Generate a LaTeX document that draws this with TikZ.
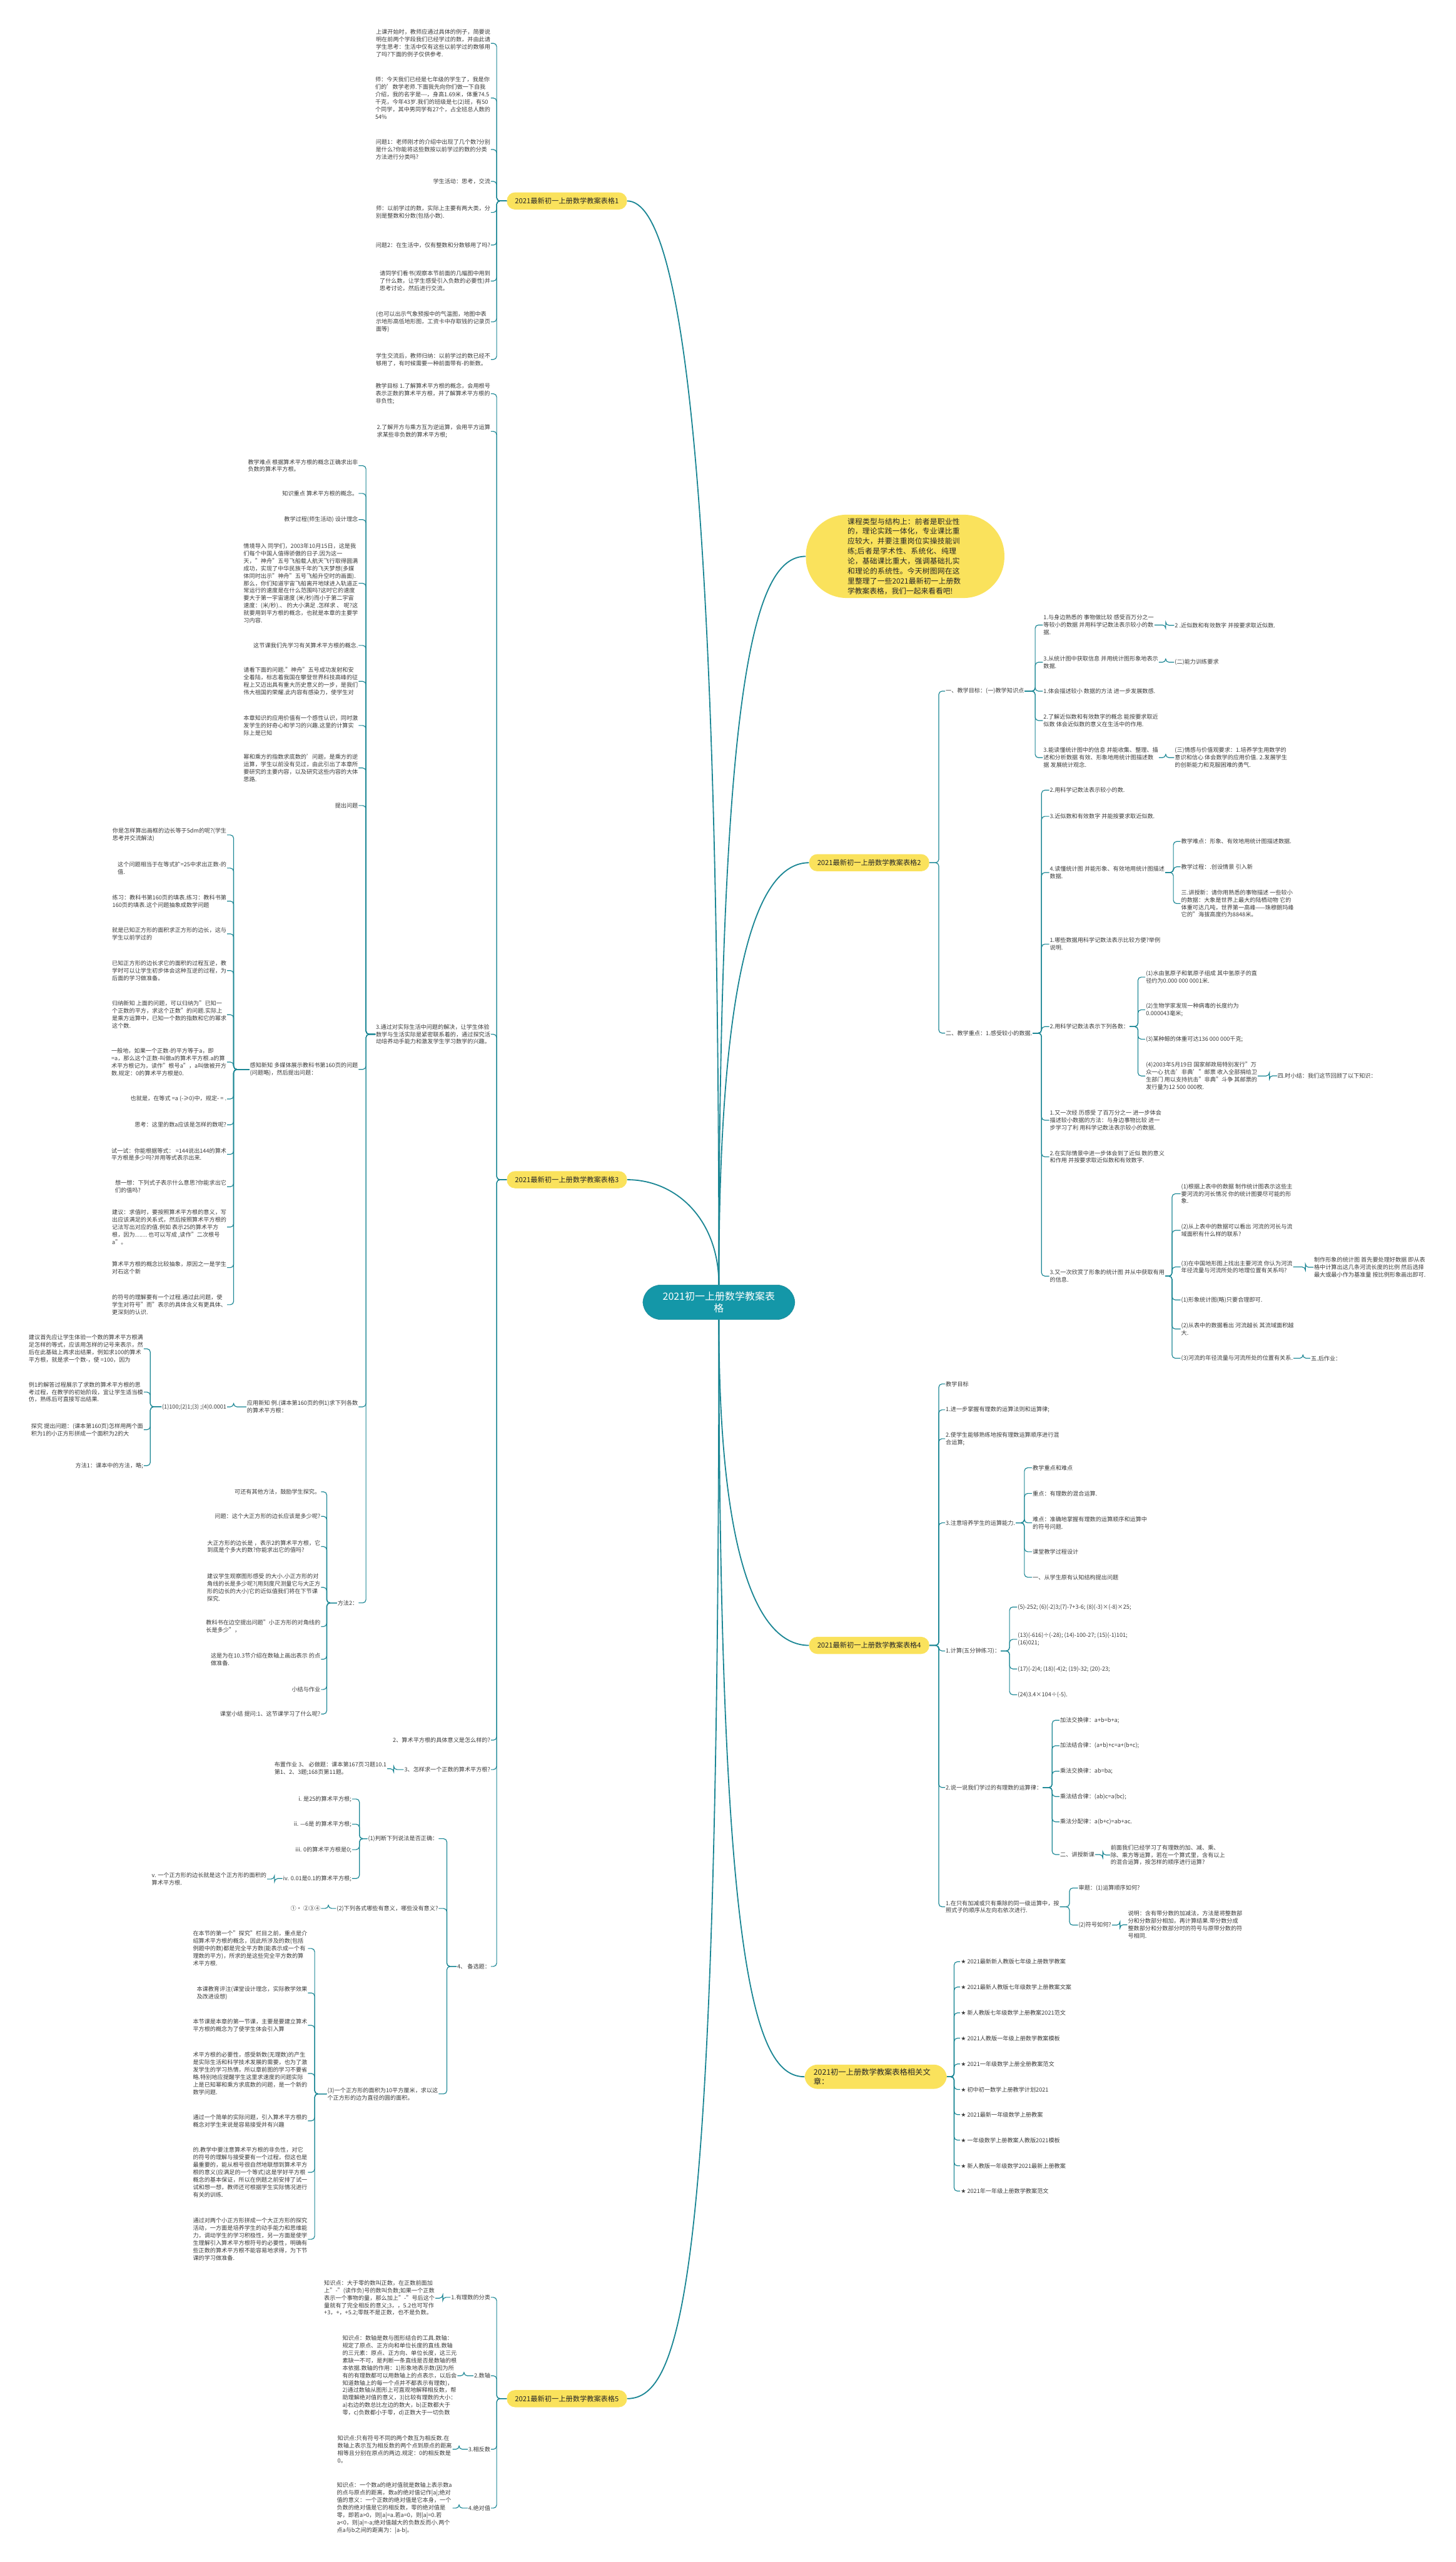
\documentclass[tikz,border=0pt]{standalone}
\usepackage{fontspec}
\setmainfont{Noto Sans CJK SC}
\newfontfamily\symfont{DejaVu Sans}
\usepackage{varwidth}
\XeTeXlinebreaklocale "zh"
\XeTeXlinebreakskip = 0pt plus 1pt
\definecolor{mapTeal}{HTML}{1497A8}
\definecolor{lineTeal}{HTML}{1A8694}
\definecolor{mapYellow}{HTML}{FAE25C}
\definecolor{leafGray}{HTML}{3A3A3A}
\newcommand\leaffont{\fontsize{7}{9.1}\selectfont}
% bracket connectors: parent, child, x of the vertical trunk
\newcommand\legL[3]{\draw[link] (#1.west) -- (#3,0 |- #1.west) |- (#2.east);}
\newcommand\legR[3]{\draw[link] (#1.east) -- (#3,0 |- #1.east) |- (#2.west);}
\tikzset{
  leaf/.style={inner sep=0.6pt, text=leafGray, font=\leaffont,
    execute at begin node={\begin{varwidth}{141pt}\raggedright},
    execute at end node={\end{varwidth}}},
  leafL/.style={leaf, anchor=east},
  leafR/.style={leaf, anchor=west},
  branch/.style={fill=mapYellow, rounded corners=10pt, inner xsep=10pt, inner ysep=0pt,
    minimum height=21pt, font=\fontsize{8.6}{10}\selectfont, text=black!85},
  hub/.style={fill=mapTeal, draw=lineTeal, rounded corners=22pt, text=white, align=center,
    text width=140pt, inner xsep=23pt, inner ysep=8pt, font=\fontsize{12.2}{15}\selectfont},
  introbox/.style={fill=mapYellow, rounded corners=50pt, text width=141pt, align=left,
    inner xsep=51pt, inner ysep=4pt, font=\fontsize{9}{12.2}\selectfont, text=black!85},
  relbox/.style={fill=mapYellow, rounded corners=16pt, text width=152pt, align=left,
    inner xsep=11pt, inner ysep=4.5pt, font=\fontsize{9.4}{12}\selectfont, text=black!85},
  link/.style={draw=lineTeal, line width=0.9pt, rounded corners=4pt},
  trunkline/.style={draw=lineTeal, line width=1.4pt},
}
\begin{document}
\begin{tikzpicture}[x=2pt,y=-2pt]
\useasboundingbox (0,0) rectangle (891,1568);

% centre and main branches
\node[hub] (hub) at (440,797) {2021初一上册数学教案表\\格};
\node[branch] (t1) at (347,123) {2021最新初一上册数学教案表格1};
\node[branch] (t3) at (347,722) {2021最新初一上册数学教案表格3};
\node[branch] (t5) at (347,1468) {2021最新初一上册数学教案表格5};
\node[introbox] (intro) at (554,340.5) {课程类型与结构上：前者是职业性的，理论实践一体化，专业课比重应较大，并要注重岗位实操技能训练;后者是学术性、系统化、纯理论，基础课比重大，强调基础扎实和理论的系统性。今天树图网在这里整理了一些2021最新初一上册数学教案表格，我们一起来看看吧!};
\node[branch] (t2) at (532,528) {2021最新初一上册数学教案表格2};
\node[branch] (t4) at (532,1007) {2021最新初一上册数学教案表格4};
\node[relbox] (rel) at (536,1271) {2021初一上册数学教案表格相关文\\章：};

\draw[trunkline] (hub.north) .. controls +(0,-480) and +(35,0) .. (t1.east);
\draw[trunkline] (hub.north) .. controls +(0,-40) and +(30,0) .. (t3.east);
\draw[trunkline] (hub.south) .. controls +(0,580) and +(35,0) .. (t5.east);
\draw[trunkline] (hub.north) .. controls +(0,-380) and +(-30,0) .. (intro.west);
\draw[trunkline] (hub.north) .. controls +(0,-200) and +(-30,0) .. (t2.west);
\draw[trunkline] (hub.south) .. controls +(0,150) and +(-30,0) .. (t4.west);
\draw[trunkline] (hub.south) .. controls +(0,400) and +(-30,0) .. (rel.west);

% table 1
\node[leafL] (t1a) at (300.5,26.5) {上课开始时，教师应通过具体的例子，简要说明在前两个学段我们已经学过的数，并由此请学生思考：生活中仅有这些以前学过的数够用了吗?下面的例子仅供参考.};
\node[leafL] (t1b) at (300.5,60) {师：今天我们已经是七年级的学生了，我是你们的'数学老师.下面我先向你们做一下自我介绍，我的名字是-{}-{}-，身高1.69米，体重74.5千克，今年43岁.我们的班级是七(2)班，有50个同学，其中男同学有27个，占全班总人数的54\%};
\node[leafL] (t1c) at (300.5,91.5) {问题1：老师刚才的介绍中出现了几个数?分别是什么?你能将这些数按以前学过的数的分类方法进行分类吗?};
\node[leafL] (t1d) at (300.5,111) {学生活动：思考，交流};
\node[leafL] (t1e) at (300.5,130) {师：以前学过的数，实际上主要有两大类，分别是整数和分数(包括小数).};
\node[leafL] (t1f) at (300.5,150) {问题2：在生活中，仅有整数和分数够用了吗?};
\node[leafL] (t1g) at (300.5,172) {请同学们看书(观察本节前面的几幅图中用到了什么数，让学生感受引入负数的必要性)并思考讨论，然后进行交流。};
\node[leafL] (t1h) at (300.5,197) {(也可以出示气象预报中的气温图，地图中表示地形高低地形图，工资卡中存取钱的记录页面等)};
\node[leafL] (t1i) at (300.5,220) {学生交流后，教师归纳：以前学过的数已经不够用了，有时候需要一种前面带有-的新数。};
\legL{t1}{t1a}{304} \legL{t1}{t1b}{304} \legL{t1}{t1c}{304}
\legL{t1}{t1d}{304} \legL{t1}{t1e}{304} \legL{t1}{t1f}{304}
\legL{t1}{t1g}{304} \legL{t1}{t1h}{304} \legL{t1}{t1i}{304}

% table 3
\node[leafL] (t3a) at (300.5,241) {教学目标 1.了解算术平方根的概念，会用根号表示正数的算术平方根，并了解算术平方根的非负性;};
\node[leafL] (t3b) at (300.5,264) {2.了解开方与乘方互为逆运算，会用平方运算求某些非负数的算术平方根;};
\node[leafL] (t3c) at (300.5,633) {3.通过对实际生活中问题的解决，让学生体验数学与生活实际是紧密联系着的，通过探究活动培养动手能力和激发学生学习数学的兴趣。};
\node[leafL] (t3d) at (300.5,1065) {2、算术平方根的具体意义是怎么样的?};
\node[leafL] (t3e) at (300.5,1083) {3、怎样求一个正数的算术平方根?};
\node[leafL] (t3f) at (300.5,1203.5) {4、 备选题：};
\legL{t3}{t3a}{304} \legL{t3}{t3b}{304} \legL{t3}{t3c}{304}
\legL{t3}{t3d}{304} \legL{t3}{t3e}{304} \legL{t3}{t3f}{304}

\node[leafL] (c1) at (219.5,285) {教学难点 根据算术平方根的概念正确求出非负数的算术平方根。};
\node[leafL] (c2) at (219.5,302) {知识重点 算术平方根的概念。};
\node[leafL] (c3) at (219.5,318) {教学过程(师生活动) 设计理念};
\node[leafL] (c4) at (219.5,357) {情境导入 同学们，2003年10月15日，这是我们每个中国人值得骄傲的日子.因为这一天，"神舟"五号飞船载人航天飞行取得圆满成功，实现了中华民族千年的飞天梦想(多媒体同时出示"神舟"五号飞船升空时的画面).那么，你们知道宇宙飞船离开地球进入轨道正常运行的速度是在什么范围吗?这时它的速度要大于第一宇宙速度 (米/秒)而小于第二宇宙速度：(米/秒).、 的大小满足 .怎样求 、 呢?这就要用到平方根的概念，也就是本章的主要学习内容.};
\node[leafL] (c5) at (219.5,395) {这节课我们先学习有关算术平方根的概念.};
\node[leafL] (c6) at (219.5,417) {请看下面的问题."神舟"五号成功发射和安全着陆，标志着我国在攀登世界科技高峰的征程上又迈出具有重大历史意义的一步，是我们伟大祖国的荣耀.此内容有感染力，使学生对};
\node[leafL] (c7) at (219.5,444) {本章知识的应用价值有一个感性认识，同时激发学生的好奇心和学习的兴趣.这里的计算实际上是已知};
\node[leafL] (c8) at (219.5,470) {幂和乘方的指数求底数的'问题，是乘方的逆运算，学生以前没有见过，由此引出了本章所要研究的主要内容，以及研究这些内容的大体思路.};
\node[leafL] (c9) at (219.5,493) {提出问题};
\node[leafL] (c10) at (219.5,654.5) {感知新知 多媒体展示教科书第160页的问题(问题略)，然后提出问题：};
\node[leafL] (c11) at (219.5,861) {应用新知 例.(课本第160页的例1)求下列各数的算术平方根：};
\node[leafL] (c12) at (219.5,981) {方法2：};
\legL{t3c}{c1}{224} \legL{t3c}{c2}{224} \legL{t3c}{c3}{224} \legL{t3c}{c4}{224}
\legL{t3c}{c5}{224} \legL{t3c}{c6}{224} \legL{t3c}{c7}{224} \legL{t3c}{c8}{224}
\legL{t3c}{c9}{224} \legL{t3c}{c10}{224} \legL{t3c}{c11}{224} \legL{t3c}{c12}{224}

\node[leafL] (k1) at (139,511) {你是怎样算出画框的边长等于5dm的呢?(学生思考并交流解法)};
\node[leafL] (k2) at (139,531.3) {这个问题相当于在等式扩=25中求出正数-的值.};
\node[leafL] (k3) at (139,551.5) {练习：教科书第160页的填表.练习：教科书第160页的填表.这个问题抽象成数学问题};
\node[leafL] (k4) at (139,571.5) {就是已知正方形的面积求正方形的边长，这与学生以前学过的};
\node[leafL] (k5) at (139,594) {已知正方形的边长求它的面积的过程互逆，教学时可以让学生初步体会这种互逆的过程，为后面的学习做准备。};
\node[leafL] (k6) at (139,621) {归纳新知 上面的问题，可以归纳为"已知一个正数的平方，求这个正数"的问题.实际上是乘方运算中，已知一个数的指数和它的幂求这个数.};
\node[leafL] (k7) at (139,650) {一般地，如果一个正数-的平方等于a，即 =a，那么这个正数-叫做a的算术平方根.a的算术平方根记为，读作"根号a"，a叫做被开方数.规定：0的算术平方根是0.};
\node[leafL] (k8) at (139,672.6) {也就是，在等式 =a (-≥0)中，规定- = .};
\node[leafL] (k9) at (139,688.4) {思考：这里的数a应该是怎样的数呢?};
\node[leafL] (k10) at (139,706.5) {试一试：你能根据等式： =144说出144的算术平方根是多少吗?并用等式表示出来.};
\node[leafL] (k11) at (139,726.3) {想一想：下列式子表示什么意思?你能求出它们的值吗?};
\node[leafL] (k12) at (139,751) {建议：求值时，要按照算术平方根的意义，写出应该满足的关系式，然后按照算术平方根的记法写出对应的值.例如 表示25的算术平方根，因为…… 也可以写成 ,读作"二次根号a"。};
\node[leafL] (k13) at (139,775.8) {算术平方根的概念比较抽象，原因之一是学生对石这个新};
\node[leafL] (k14) at (139,798.5) {的符号的理解要有一个过程.通过此问题，使学生对符号"而"表示的具体含义有更具体、更深刻的认识.};
\legL{c10}{k1}{143} \legL{c10}{k2}{143} \legL{c10}{k3}{143} \legL{c10}{k4}{143}
\legL{c10}{k5}{143} \legL{c10}{k6}{143} \legL{c10}{k7}{143} \legL{c10}{k8}{143}
\legL{c10}{k9}{143} \legL{c10}{k10}{143} \legL{c10}{k11}{143} \legL{c10}{k12}{143}
\legL{c10}{k13}{143} \legL{c10}{k14}{143}

\node[leafL] (ex) at (139,861) {(1)100;(2)1;(3) ;(4)0.0001};
\legL{c11}{ex}{143}
\node[leafL] (m1) at (88,825.5) {建议首先应让学生体验一个数的算术平方根满足怎样的等式，应该用怎样的记号来表示，然后在此基础上再求出结果，例如求100的算术平方根，就是求一个数-，使 =100，因为};
\node[leafL] (m2) at (88,852) {例1的解答过程展示了求数的算术平方根的思考过程，在教学的初始阶段，宜让学生适当模仿，熟练后可直接写出结果.};
\node[leafL] (m3) at (88,875) {探究 提出问题：(课本第160页)怎样用两个面积为1的小正方形拼成一个面积为2的大};
\node[leafL] (m4) at (88,897) {方法1：课本中的方法，略;};
\legL{ex}{m1}{92} \legL{ex}{m2}{92} \legL{ex}{m3}{92} \legL{ex}{m4}{92}

\node[leafL] (n1) at (196.5,913) {可还有其他方法，鼓励学生探究。};
\node[leafL] (n2) at (196.5,928) {问题：这个大正方形的边长应该是多少呢?};
\node[leafL] (n3) at (196.5,946.5) {大正方形的边长是 ，表示2的算术平方根，它到底是个多大的数?你能求出它的值吗?};
\node[leafL] (n4) at (196.5,971.5) {建议学生观察图形感受 的大小.小正方形的对角线的长是多少呢?(用刻度尺测量它与大正方形的边长的大小)它的近似值我们将在下节课探究.};
\node[leafL] (n5) at (196.5,995.5) {教科书在边空提出问题"小正方形的对角线的长是多少"，};
\node[leafL] (n6) at (196.5,1015.5) {这是为在10.3节介绍在数轴上画出表示 的点做准备.};
\node[leafL] (n7) at (196.5,1034) {小结与作业};
\node[leafL] (n8) at (196.5,1049) {课堂小结 提问:1、这节课学习了什么呢?};
\legL{c12}{n1}{200} \legL{c12}{n2}{200} \legL{c12}{n3}{200} \legL{c12}{n4}{200}
\legL{c12}{n5}{200} \legL{c12}{n6}{200} \legL{c12}{n7}{200} \legL{c12}{n8}{200}

\node[leafL] (hw) at (237,1082.5) {布置作业 3、 必做题：课本第167页习题10.1第1、2、3题;168页第11题。};
\legL{t3e}{hw}{241}

\node[leafL] (p1) at (268.5,1125.3) {(1)判断下列说法是否正确：};
\node[leafL] (p2) at (268.5,1168) {(2)下列各式哪些有意义，哪些没有意义?};
\node[leafL] (p3) at (268.5,1281.5) {(3)一个正方形的面积为10平方厘米，求以这个正方形的边为直径的圆的面积。};
\legL{t3f}{p1}{273.5} \legL{t3f}{p2}{273.5} \legL{t3f}{p3}{273.5}
\node[leafL] (q1) at (215.5,1101) {i. 是25的算术平方根;};
\node[leafL] (q2) at (215.5,1116.4) {ii. —6是 的算术平方根;};
\node[leafL] (q3) at (215.5,1132) {iii. 0的算术平方根是0;};
\node[leafL] (q4) at (215.5,1149.7) {iv. 0.01是0.1的算术平方根;};
\legL{p1}{q1}{220} \legL{p1}{q2}{220} \legL{p1}{q3}{220} \legL{p1}{q4}{220}
\node[leafL] (q5) at (163.5,1150) {v. 一个正方形的边长就是这个正方形的面积的算术平方根.};
\legL{q4}{q5}{168}
\node[leafL] (p2a) at (196.5,1168) {①· ②③④};
\legL{p2}{p2a}{201}
\node[leafL] (r1) at (188.5,1192.5) {在本节的第一个"探究"栏目之前，重点是介绍算术平方根的概念，因此所涉及的数(包括例题中的数)都是完全平方数(能表示成一个有理数的平方)，所求的是这些完全平方数的算术平方根.};
\node[leafL] (r2) at (188.5,1219.7) {本课教育评注(课堂设计理念，实际教学效果及改进设想)};
\node[leafL] (r3) at (188.5,1239.5) {本节课是本章的第一节课，主要是要建立算术平方根的概念为了使学生体会引入算};
\node[leafL] (r4) at (188.5,1269) {术平方根的必要性，感受新数(无理数)的产生是实际生活和科学技术发展的需要，也为了激发学生的学习热情，所以章前图的学习不要省略.特别地应提醒学生这里求速度的问题实际上是已知幂和乘方求底数的问题，是一个新的数学问题.};
\node[leafL] (r5) at (188.5,1298) {通过一个简单的实际问题，引入算术平方根的概念对学生来说是容易接受并有兴趣};
\node[leafL] (r6) at (188.5,1329.5) {的.教学中要注意算术平方根的非负性，对它的符号的理解与接受要有一个过程，但这也是最重要的，能从根号很自然地联想到算术平方根的意义(应满足的一个等式)这是学好平方根概念的基本保证，所以在例题之前安排了试一试和想一想，教师还可根据学生实际情况进行有关的训练.};
\node[leafL] (r7) at (188.5,1370.5) {通过对两个小正方形拼成一个大正方形的探究活动，一方面是培养学生的动手能力和思维能力，调动学生的学习积极性，另一方面是使学生理解引入算术平方根符号的必要性，明确有些正数的算术平方根不能容易地求得，为下节课的学习做准备.};
\legL{p3}{r1}{192.6} \legL{p3}{r2}{192.6} \legL{p3}{r3}{192.6} \legL{p3}{r4}{192.6}
\legL{p3}{r5}{192.6} \legL{p3}{r6}{192.6} \legL{p3}{r7}{192.6}

% table 5
\node[leafL] (s1) at (300.5,1406) {1.有理数的分类};
\node[leafL] (s2) at (300.5,1454) {2.数轴};
\node[leafL] (s3) at (300.5,1499) {3.相反数};
\node[leafL] (s4) at (300.5,1535) {4.绝对值};
\legL{t5}{s1}{304} \legL{t5}{s2}{304} \legL{t5}{s3}{304} \legL{t5}{s4}{304}
\node[leafL] (s1a) at (266.5,1406.5) {知识点：大于零的数叫正数，在正数前面加上"-"(读作负)号的数叫负数;如果一个正数表示一个事物的量，那么加上"-"号后这个量就有了完全相反的意义;3，，5.2也可写作+3，+，+5.2;零既不是正数，也不是负数。};
\node[leafL] (s2a) at (280,1454) {知识点：数轴是数与图形结合的工具.数轴：规定了原点、正方向和单位长度的直线.数轴的三元素：原点、正方向、单位长度，这三元素缺一不可，是判断一条直线是否是数轴的根本依据.数轴的作用：1)形象地表示数(因为所有的有理数都可以用数轴上的点表示，以后会知道数轴上的每一个点并不都表示有理数)，2)通过数轴从图形上可直观地解释相反数，帮助理解绝对值的意义，3)比较有理数的大小：a)右边的数总比左边的数大，b)正数都大于零，c)负数都小于零，d)正数大于一切负数};
\node[leafL] (s3a) at (277,1499) {知识点:只有符号不同的两个数互为相反数.在数轴上表示互为相反数的两个点到原点的距离相等且分别在原点的两边.规定：0的相反数是0。};
\node[leafL] (s4a) at (277,1535) {知识点：一个数a的绝对值就是数轴上表示数a的点与原点的距离，数a的绝对值记作|a|;绝对值的意义：一个正数的绝对值是它本身，一个负数的绝对值是它的相反数，零的绝对值是零，即若a>0，则|a|=a.若a=0，则|a|=0.若a<0，则|a|=-a;绝对值越大的负数反而小.两个点a与b之间的距离为：|a-b|。};
\legL{s1}{s1a}{271} \legL{s2}{s2a}{284} \legL{s3}{s3a}{281} \legL{s4}{s4a}{281}

% table 2
\node[leafR] (u1) at (578.5,423) {一、教学目标：(一)教学知识点};
\node[leafR] (u2) at (578.5,632.3) {二、教学重点：1.感受较小的数据.};
\legR{t2}{u1}{574.6} \legR{t2}{u2}{574.6}
\node[leafR] (v1) at (638.3,382.5) {1.与身边熟悉的 事物做比较 感受百万分之一等较小的数据 并用科学记数法表示较小的数据.};
\node[leafR] (v2) at (638.3,405.3) {3.从统计图中获取信息 并用统计图形象地表示数据.};
\node[leafR] (v3) at (638.3,423) {1.体会描述较小 数据的方法 进一步发展数感.};
\node[leafR] (v4) at (638.3,441) {2.了解近似数和有效数字的概念 能按要求取近似数 体会近似数的意义在生活中的作用.};
\node[leafR] (v5) at (638.3,463.7) {3.能读懂统计图中的信息 并能收集、整理、描述和分析数据 有效、形象地用统计图描述数据 发展统计观念.};
\legR{u1}{v1}{633.6} \legR{u1}{v2}{633.6} \legR{u1}{v3}{633.6} \legR{u1}{v4}{633.6} \legR{u1}{v5}{633.6}
\node[leafR] (v1a) at (718.7,382.7) {2 .近似数和有效数字 并按要求取近似数.};
\node[leafR] (v2a) at (718.7,405.3) {(二)能力训练要求};
\node[leafR] (v5a) at (718.7,463.7) {(三)情感与价值观要求：1.培养学生用数学的意识和信心 体会数学的应用价值. 2.发展学生的创新能力和克服困难的勇气.};
\legR{v1}{v1a}{713.5} \legR{v2}{v2a}{713.5} \legR{v5}{v5a}{713.5}

\node[leafR] (w1) at (642.2,483.6) {2.用科学记数法表示较小的数.};
\node[leafR] (w2) at (642.2,499.6) {3.近似数和有效数字 并能按要求取近似数.};
\node[leafR] (w3) at (642.2,534) {4.读懂统计图 并能形象、有效地用统计图描述数据.};
\node[leafR] (w4) at (642.2,577.8) {1.哪些数据用科学记数法表示比较方便?举例说明.};
\node[leafR] (w5) at (642.2,628.3) {2.用科学记数法表示下列各数：};
\node[leafR] (w6) at (642.2,685.6) {1.又一次经 历感受 了百万分之一 进一步体会描述较小数据的方法：与身边事物比较 进一步学习了利 用科学记数法表示较小的数据.};
\node[leafR] (w7) at (642.2,708) {2.在实际情景中进一步体会到了近似 数的意义和作用 并按要求取近似数和有效数字.};
\node[leafR] (w8) at (642.2,781) {3.又一次欣赏了形象的统计图 并从中获取有用的信息.};
\legR{u2}{w1}{637.5} \legR{u2}{w2}{637.5} \legR{u2}{w3}{637.5} \legR{u2}{w4}{637.5}
\legR{u2}{w5}{637.5} \legR{u2}{w6}{637.5} \legR{u2}{w7}{637.5} \legR{u2}{w8}{637.5}
\node[leafR] (x1) at (722.6,515) {教学难点：形象、有效地用统计图描述数据.};
\node[leafR] (x2) at (722.6,530.5) {教学过程：.创设情景 引入新};
\node[leafR] (x3) at (722.6,553) {三.讲授新：请你用熟悉的事物描述 一些较小的数据：大象是世界上最大的陆栖动物 它的体重可达几吨，世界第一高峰——珠穆朗玛峰 它的"海拔高度约为8848米。};
\legR{w3}{x1}{718.2} \legR{w3}{x2}{718.2} \legR{w3}{x3}{718.2}
\node[leafR] (y1) at (701,598) {(1)水由氢原子和氧原子组成 其中氢原子的直径约为0.000 000 0001米.};
\node[leafR] (y2) at (701,618) {(2)生物学家发现一种病毒的长度约为0.000043毫米;};
\node[leafR] (y3) at (701,636) {(3)某种鲸的体重可达136 000 000千克;};
\node[leafR] (y4) at (701,658.5) {(4)2003年5月19日 国家邮政局特别发行"万众一心 抗击'非典'"邮票 收入全部捐给卫生部门 用以支持抗击"非典"斗争 其邮票的发行量为12 500 000枚.};
\legR{w5}{y1}{696.5} \legR{w5}{y2}{696.5} \legR{w5}{y3}{696.5} \legR{w5}{y4}{696.5}
\node[leafR] (y4a) at (781.6,658.4) {四.时小结：我们这节回顾了以下知识：};
\legR{y4}{y4a}{777}
\node[leafR] (z1) at (722.6,730.6) {(1)根据上表中的数据 制作统计图表示这些主要河流的河长情况 你的统计图要尽可能的形象.};
\node[leafR] (z2) at (722.6,753) {(2)从上表中的数据可以看出 河流的河长与流域面积有什么样的联系?};
\node[leafR] (z3) at (722.6,775.4) {(3)在中国地形图上找出主要河流 你认为河流年径流量与河流所处的地理位置有关系吗?};
\node[leafR] (z4) at (722.6,795.6) {(1)形象统计图(略)只要合理即可.};
\node[leafR] (z5) at (722.6,813.4) {(2)从表中的数据看出 河流越长 其流域面积越大.};
\node[leafR] (z6) at (722.6,831.3) {(3)河流的年径流量与河流所处的位置有关系.};
\legR{w8}{z1}{717.4} \legR{w8}{z2}{717.4} \legR{w8}{z3}{717.4}
\legR{w8}{z4}{717.4} \legR{w8}{z5}{717.4} \legR{w8}{z6}{717.4}
\node[leafR] (z3a) at (803.9,775.6) {制作形象的统计图 首先要处理好数据 即从表格中计算出这几条河流长度的比例 然后选择最大或最小作为基准量 按比例形象画出即可.};
\node[leafR] (z6a) at (802,831.3) {五.后作业：};
\legR{z3}{z3a}{799} \legR{z6}{z6a}{797.5}

% table 4
\node[leafR] (a1) at (578.5,847) {教学目标};
\node[leafR] (a2) at (578.5,862.8) {1.进一步掌握有理数的运算法则和运算律;};
\node[leafR] (a3) at (578.5,880.5) {2.使学生能够熟练地按有理数运算顺序进行混合运算;};
\node[leafR] (a4) at (578.5,932) {3.注意培养学生的运算能力.};
\node[leafR] (a5) at (578.5,1010.4) {1.计算(五分钟练习)：};
\node[leafR] (a6) at (578.5,1094) {2.说一说我们学过的有理数的运算律：};
\node[leafR] (a7) at (578.5,1167) {1.在只有加减或只有乘除的同一级运算中，按照式子的顺序从左向右依次进行.};
\legR{t4}{a1}{574.6} \legR{t4}{a2}{574.6} \legR{t4}{a3}{574.6} \legR{t4}{a4}{574.6}
\legR{t4}{a5}{574.6} \legR{t4}{a6}{574.6} \legR{t4}{a7}{574.6}
\node[leafR] (b1) at (631.7,898.3) {教学重点和难点};
\node[leafR] (b2) at (631.7,914) {重点：有理数的混合运算.};
\node[leafR] (b3) at (631.7,932) {难点：准确地掌握有理数的运算顺序和运算中的符号问题.};
\node[leafR] (b4) at (631.7,949.7) {课堂教学过程设计};
\node[leafR] (b5) at (631.7,965.3) {一、从学生原有认知结构提出问题};
\legR{a4}{b1}{627} \legR{a4}{b2}{627} \legR{a4}{b3}{627} \legR{a4}{b4}{627} \legR{a4}{b5}{627}
\node[leafR] (d1) at (622.6,983.5) {(5)-252; (6)(-2)3;(7)-7+3-6; (8)(-3)×(-8)×25;};
\node[leafR] (d2) at (622.6,1003.3) {(13)(-616)÷(-28); (14)-100-27; (15)(-1)101; (16)021;};
\node[leafR] (d3) at (622.6,1021.4) {(17)(-2)4; (18)(-4)2; (19)-32; (20)-23;};
\node[leafR] (d4) at (622.6,1037.2) {(24)3.4×104÷(-5).};
\legR{a5}{d1}{617.9} \legR{a5}{d2}{617.9} \legR{a5}{d3}{617.9} \legR{a5}{d4}{617.9}
\node[leafR] (e1) at (648.5,1052.8) {加法交换律：a+b=b+a;};
\node[leafR] (e2) at (648.5,1068.4) {加法结合律：(a+b)+c=a+(b+c);};
\node[leafR] (e3) at (648.5,1084) {乘法交换律：ab=ba;};
\node[leafR] (e4) at (648.5,1099.5) {乘法结合律：(ab)c=a(bc);};
\node[leafR] (e5) at (648.5,1115) {乘法分配律：a(b+c)=ab+ac.};
\node[leafR] (e6) at (648.5,1135) {二、讲授新课};
\legR{a6}{e1}{644} \legR{a6}{e2}{644} \legR{a6}{e3}{644}
\legR{a6}{e4}{644} \legR{a6}{e5}{644} \legR{a6}{e6}{644}
\node[leafR] (e6a) at (679.4,1135.3) {前面我们已经学习了有理数的加、减、乘、除、乘方等运算，若在一个算式里，含有以上的混合运算，按怎样的顺序进行运算?};
\legR{e6}{e6a}{675}
\node[leafR] (f1) at (659.8,1155.5) {审题：(1)运算顺序如何?};
\node[leafR] (f2) at (659.8,1178.2) {(2)符号如何?};
\legR{a7}{f1}{654.6} \legR{a7}{f2}{654.6}
\node[leafR] (f2a) at (690,1178) {说明：含有带分数的加减法，方法是将整数部分和分数部分相加，再计算结果.带分数分成整数部分和分数部分时的符号与原带分数的符号相同.};
\legR{f2}{f2a}{685.5}

% related articles
\node[leafR] (g1) at (587.7,1200.6) {{\symfont ★} 2021最新新人教版七年级上册数学教案};
\node[leafR] (g2) at (587.7,1216.1) {{\symfont ★} 2021最新人教版七年级数学上册教案文案};
\node[leafR] (g3) at (587.7,1231.9) {{\symfont ★} 新人教版七年级数学上册教案2021范文};
\node[leafR] (g4) at (587.7,1247.4) {{\symfont ★} 2021人教版一年级上册数学教案模板};
\node[leafR] (g5) at (587.7,1263.2) {{\symfont ★} 2021一年级数学上册全册教案范文};
\node[leafR] (g6) at (587.7,1278.8) {{\symfont ★} 初中初一数学上册教学计划2021};
\node[leafR] (g7) at (587.7,1294.2) {{\symfont ★} 2021最新一年级数学上册教案};
\node[leafR] (g8) at (587.7,1309.8) {{\symfont ★} 一年级数学上册教案人教版2021模板};
\node[leafR] (g9) at (587.7,1325.5) {{\symfont ★} 新人教版一年级数学2021最新上册教案};
\node[leafR] (g10) at (587.7,1341) {{\symfont ★} 2021年一年级上册数学教案范文};
\legR{rel}{g1}{584} \legR{rel}{g2}{584} \legR{rel}{g3}{584} \legR{rel}{g4}{584} \legR{rel}{g5}{584}
\legR{rel}{g6}{584} \legR{rel}{g7}{584} \legR{rel}{g8}{584} \legR{rel}{g9}{584} \legR{rel}{g10}{584}
\end{tikzpicture}
\end{document}
